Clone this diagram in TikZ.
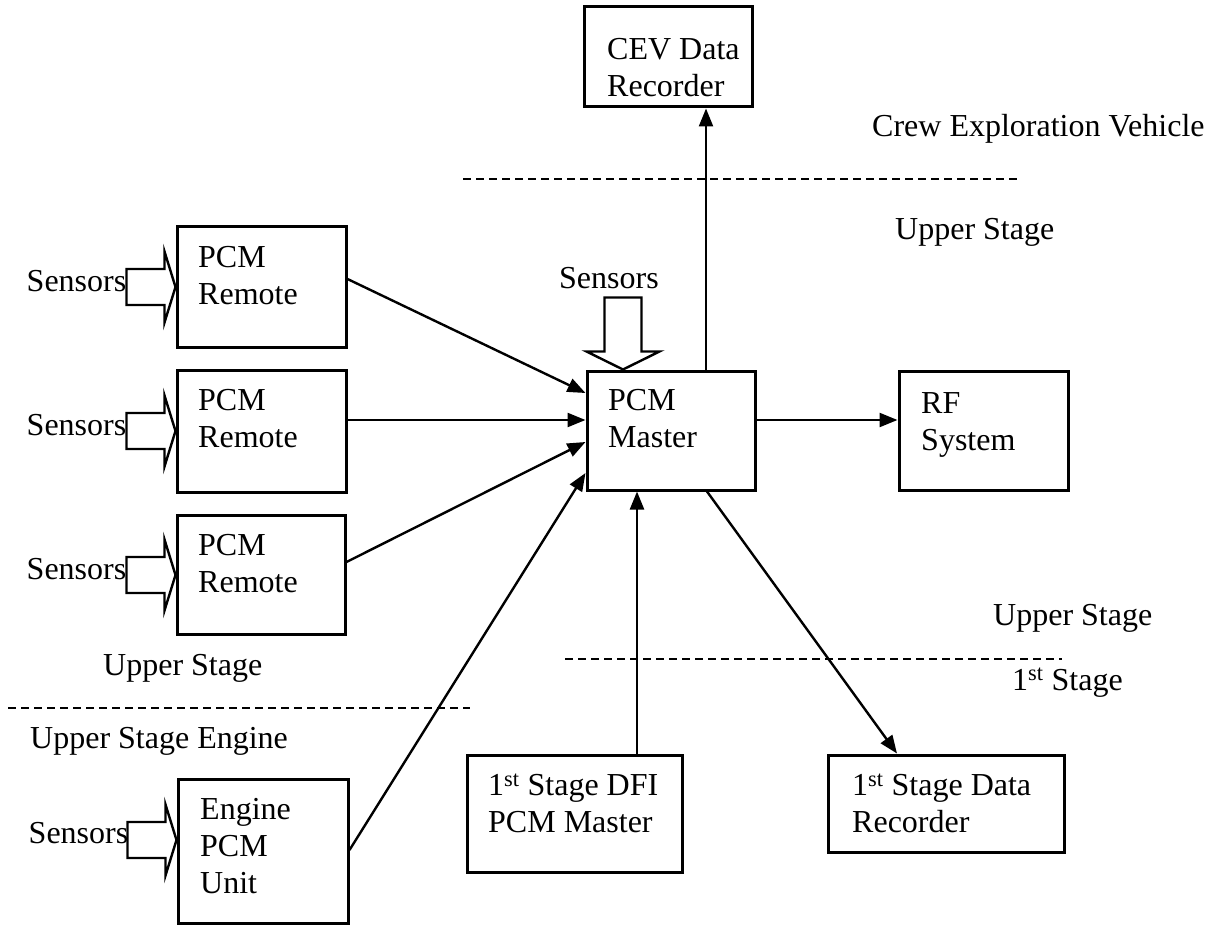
\documentclass[tikz,border=0pt]{standalone}
\usepackage{fontspec}
\setmainfont{Liberation Serif}
\usetikzlibrary{arrows.meta,calc}
\begin{document}
\begin{tikzpicture}[x=1pt,y=-1pt,
  font=\fontsize{32}{37}\selectfont,
  box/.style={draw, line width=3pt, inner sep=0pt},
  boxtext/.style={inner sep=0pt, align=left, anchor=north west},
  lbl/.style={inner sep=0pt, anchor=base west},
  conn/.style={line width=2.4pt, -{Triangle[length=18pt,width=14pt]}},
  divline/.style={line width=2pt, dash pattern=on 8pt off 5pt},
  hollow/.style={draw, line width=2.4pt, fill=white, line join=miter}]
\useasboundingbox (0,0) rectangle (1213,928);

% boxes
\node[box, minimum width=168, minimum height=100] (cev) at (668,57) {};
\node[box, minimum width=169, minimum height=120] (r1) at (261.5,287) {};
\node[box, minimum width=169, minimum height=122] (r2) at (261.5,431) {};
\node[box, minimum width=168, minimum height=119] (r3) at (261,574.5) {};
\node[box, minimum width=170, minimum height=144] (eng) at (263,851) {};
\node[box, minimum width=168, minimum height=119] (master) at (671,430.5) {};
\node[box, minimum width=169, minimum height=119] (rf) at (983.5,430.5) {};
\node[box, minimum width=215, minimum height=117] (dfi) at (574.5,813.5) {};
\node[box, minimum width=236, minimum height=97] (rec) at (946,803.5) {};

% box texts (north = first baseline - 26)
\newcommand{\fl}{\rule{0pt}{26pt}}
\node[boxtext] (tcev) at (607,33) {\fl CEV Data\\Recorder};
\node[boxtext] (tr1) at (198,241) {\fl PCM\\Remote};
\node[boxtext] (tr2) at (198,384) {\fl PCM\\Remote};
\node[boxtext] (tr3) at (198,529) {\fl PCM\\Remote};
\node[boxtext] (teng) at (200,793) {\fl Engine\\PCM\\Unit};
\node[boxtext] (tmaster) at (608,384) {\fl PCM\\Master};
\node[boxtext] (trf) at (921,387) {\fl RF\\System};
\node[boxtext] (tdfi) at (488,769) {\fl 1\textsuperscript{st} Stage DFI\\PCM Master};
\node[boxtext] (trec) at (852,769) {\fl 1\textsuperscript{st} Stage Data\\Recorder};

% region labels
\node[lbl] (crew) at (872,137) {Crew Exploration Vehicle};
\node[lbl] (us1) at (895,240) {Upper Stage};
\node[lbl] (us2) at (993,625) {Upper Stage};
\node[lbl] (fs) at (1012,690) {1\textsuperscript{st} Stage};
\node[lbl] (us3) at (103,675) {Upper Stage};
\node[lbl] (use) at (30,748) {Upper Stage Engine};

% dashed dividers
\coordinate (d1a) at (463,179); \coordinate (d1b) at (1020,179);
\coordinate (d2a) at (565,659); \coordinate (d2b) at (1062,659);
\coordinate (d3a) at (8,708);   \coordinate (d3b) at (470,708);
\draw[divline] (d1a) -- (d1b);
\draw[divline] (d2a) -- (d2b);
\draw[divline] (d3a) -- (d3b);

% sensor block arrows (left)
\coordinate (p1) at (r1.west);
\coordinate (p2) at (r2.west);
\coordinate (p3) at ($(r3.west)+(0,0.5)$);
\coordinate (p4) at ($(eng.west)+(0,-11)$);
\foreach \p in {p1,p2,p3,p4}{
  \draw[hollow] (\p) -- ++(-11,-35.5) -- ++(0,17.5) -- ++(-38,0) -- ++(0,36)
     -- ++(38,0) -- ++(0,17.5) -- cycle;
}
\node[inner sep=0pt, anchor=base east] (s1) at ($(p1)+(-49,4)$) {Sensors};
\node[inner sep=0pt, anchor=base east] (s2) at ($(p2)+(-49,4)$) {Sensors};
\node[inner sep=0pt, anchor=base east] (s3) at ($(p3)+(-49,4)$) {Sensors};
\node[inner sep=0pt, anchor=base east] (s4) at ($(p4)+(-48,3)$) {Sensors};

% sensor block arrow (top of master)
\coordinate (pm) at ($(master.north)+(-48,0)$);
\draw[hollow] (pm) -- ++(-36.5,-18) -- ++(18,0) -- ++(0,-54) -- ++(37,0)
   -- ++(0,54) -- ++(18,0) -- cycle;
\node[lbl] (sm) at (559,288) {Sensors};

% connectors
\draw[conn] ($(r1.east)+(0,-8)$) -- ($(master.west)+(0,-37.5)$);
\draw[conn] ($(r2.east)+(0,-11)$) -- ($(master.west)+(0,-10.5)$);
\draw[conn] ($(r3.east)+(0,-12.5)$) -- ($(master.west)+(0,11.5)$);
\draw[conn] ($(eng.east)+(0,-1)$) -- ($(master.west)+(0,42.5)$);
\draw[conn] ($(master.north)+(35,0)$) -- ($(cev.south)+(38,0)$);
\draw[conn] ($(master.east)+(0,-10.5)$) -- ($(rf.west)+(0,-10.5)$);
\draw[conn] ($(dfi.north)+(62.5,0)$) -- ($(master.south)+(-34,0)$);
\draw[conn] ($(master.south)+(36,0)$) -- ($(rec.north)+(-49,0)$);
\end{tikzpicture}
\end{document}
